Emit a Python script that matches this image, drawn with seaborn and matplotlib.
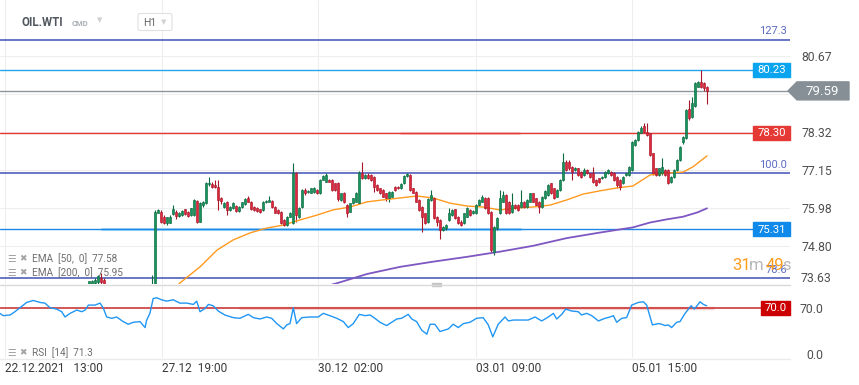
import numpy as np
import matplotlib
matplotlib.use("Agg")
import matplotlib.pyplot as plt
from matplotlib.patches import Rectangle, Polygon, FancyBboxPatch
import seaborn as sns

# ---------------- data ----------------
first_idx = 28  # index of first candle (H1 bars, 22.12.2021 13:00 = index 0)
opens = [73.50, 73.62, 73.65, 73.68, 73.80, 73.75, 73.55, 73.40, 73.30, 73.38,
         73.25, 73.15, 73.22, 73.10, 73.02, 73.08, 72.98, 73.05, 72.95, 72.88,
         72.95, 73.05, 73.30, 75.83, 75.86, 75.70, 75.50, 75.52, 75.78, 75.86,
         75.72, 75.76, 75.93, 75.86, 75.75, 75.75, 76.20, 75.55, 76.05, 76.11,
         76.70, 76.72, 76.68, 76.63, 76.27, 76.01, 76.17, 75.91, 75.96, 76.03,
         75.89, 76.01, 76.10, 76.27, 76.17, 76.01, 75.96, 75.93, 75.91, 76.15,
         76.17, 76.20, 76.01, 75.91, 75.86, 75.60, 75.45, 75.70,
         75.50, 77.06, 75.70, 76.00, 76.53, 76.45, 76.44, 76.45, 76.53, 76.42,
         76.84, 76.78, 76.84, 76.84, 76.73, 76.75, 76.22, 76.42, 76.06, 75.86,
         76.11, 76.17, 76.13, 77.06, 76.89, 76.99, 76.99, 76.94, 76.68, 76.58,
         76.53, 76.42, 76.27, 76.32, 76.63, 76.63, 76.58, 76.73, 76.96, 76.99,
         76.58, 76.47, 76.22, 76.01, 75.81, 75.55, 76.22, 76.27, 75.70, 75.60,
         75.29, 75.34,
         75.60, 75.75, 75.93, 75.70, 75.55, 75.50, 75.70, 75.91, 75.81, 75.81,
         76.06, 76.17, 76.27, 76.27, 75.86, 74.62, 75.34, 75.81, 76.17, 76.37,
         76.17, 75.86, 76.06, 76.06, 76.01, 76.17, 76.01, 76.17, 76.42, 76.27,
         76.17, 76.01, 76.27, 76.37, 76.73, 76.58, 76.32, 76.53, 76.84, 77.40,
         77.40, 77.25,
         77.15, 77.20, 77.09, 76.99, 77.15, 77.04, 77.04, 76.84, 76.89, 76.89,
         76.94, 77.04, 77.09, 77.06, 76.94, 76.84, 76.73, 76.99, 76.99, 77.15,
         77.92, 78.07, 78.30, 78.49, 78.33, 78.28, 77.66, 77.20, 76.99, 77.04,
         77.15, 77.15, 76.78, 76.94, 77.15, 77.45, 78.02, 78.13, 79.03, 78.79,
         79.11, 79.72, 79.88, 79.82, 79.72]
highs = [73.72, 73.75, 73.80, 73.90, 73.96, 73.80, 73.58, 73.45, 73.42, 73.40,
         73.30, 73.26, 73.25, 73.14, 73.12, 73.10, 73.08, 73.08, 72.98, 72.98,
         73.08, 73.90, 75.91, 75.95, 75.90, 75.74, 75.70, 75.74, 76.06, 75.90,
         75.85, 75.92, 75.95, 75.88, 75.98, 76.24, 76.22, 76.14, 76.20, 76.76,
         76.94, 76.76, 76.85, 76.82, 76.30, 76.16, 76.20, 76.04, 76.14, 76.06,
         76.04, 76.17, 76.27, 76.34, 76.20, 76.04, 75.99, 75.95, 76.19, 76.23,
         76.34, 76.23, 76.04, 75.93, 75.88, 75.62, 75.73, 75.84,
         77.35, 77.08, 76.00, 76.56, 76.60, 76.54, 76.60, 76.62, 76.55, 76.86,
         76.99, 77.04, 76.86, 76.86, 76.75, 76.78, 76.44, 76.47, 76.08, 76.13,
         76.29, 76.47, 77.10, 77.40, 77.01, 77.04, 77.02, 76.96, 76.70, 76.60,
         76.55, 76.44, 76.49, 76.50, 76.66, 76.65, 76.73, 76.98, 77.06, 77.03,
         76.60, 76.49, 76.24, 76.03, 75.83, 76.27, 76.53, 76.30, 75.72, 75.62,
         75.42, 75.47,
         75.96, 75.93, 75.95, 75.72, 75.60, 75.83, 76.01, 75.93, 75.90, 76.08,
         76.24, 76.37, 76.30, 76.30, 75.88, 75.42, 75.68, 76.53, 76.50, 76.40,
         76.20, 76.42, 76.08, 76.08, 76.53, 76.19, 76.24, 76.44, 76.44, 76.29,
         76.19, 76.34, 76.53, 76.71, 76.75, 76.60, 76.55, 76.86, 77.66, 77.45,
         77.45, 77.27,
         77.25, 77.22, 77.12, 77.20, 77.17, 77.06, 77.25, 76.86, 76.91, 76.96,
         77.12, 77.17, 77.12, 77.09, 76.96, 76.86, 76.96, 77.06, 77.27, 78.05,
         78.10, 78.36, 78.50, 78.59, 78.59, 78.30, 77.68, 77.22, 77.22, 77.51,
         77.17, 77.17, 76.96, 77.17, 77.47, 77.90, 78.20, 79.03, 79.31, 79.41,
         79.85, 79.90, 80.24, 79.85, 79.75]
lows = [73.45, 73.55, 73.60, 73.60, 73.60, 73.50, 73.35, 73.25, 73.26, 73.20,
        73.10, 73.12, 73.05, 72.98, 72.98, 72.92, 72.95, 72.90, 72.85, 72.85,
        72.92, 73.00, 73.25, 75.80, 75.50, 75.48, 75.45, 75.50, 75.75, 75.62,
        75.68, 75.72, 75.74, 75.70, 75.72, 75.72, 75.52, 75.53, 76.00, 76.08,
        76.65, 76.60, 76.60, 75.90, 76.10, 75.98, 75.75, 75.88, 75.93, 75.85,
        75.86, 75.98, 76.07, 76.14, 75.90, 75.88, 75.86, 75.82, 75.88, 76.12,
        76.14, 75.98, 75.80, 75.78, 75.46, 75.42, 75.42, 75.68,
        75.46, 75.55, 75.65, 75.98, 76.38, 76.42, 76.42, 76.42, 76.40, 76.40,
        76.82, 76.76, 76.76, 76.50, 76.50, 76.20, 76.20, 76.12, 75.70, 75.84,
        76.08, 76.14, 76.10, 76.86, 76.86, 76.86, 76.81, 76.47, 76.50, 76.40,
        76.30, 76.20, 76.14, 76.30, 76.50, 76.55, 76.55, 76.70, 76.94, 76.50,
        76.42, 76.14, 75.88, 75.24, 75.47, 75.52, 76.20, 75.62, 75.40, 75.00,
        75.26, 75.30,
        75.58, 75.73, 75.62, 75.47, 75.42, 75.47, 75.68, 75.72, 75.78, 75.78,
        76.03, 76.14, 75.93, 75.78, 74.62, 74.51, 75.29, 75.78, 76.14, 75.78,
        75.78, 75.83, 75.93, 75.88, 75.98, 75.98, 75.98, 76.14, 76.14, 76.03,
        75.81, 75.98, 76.24, 76.34, 76.40, 76.24, 76.30, 76.50, 76.80, 77.12,
        77.15, 76.84,
        77.12, 76.96, 76.91, 76.96, 77.01, 76.91, 76.75, 76.65, 76.75, 76.86,
        76.91, 77.01, 76.96, 76.81, 76.58, 76.53, 76.70, 76.96, 76.96, 77.12,
        77.90, 78.05, 78.28, 78.30, 78.20, 77.58, 77.00, 76.96, 76.96, 77.00,
        76.96, 76.70, 76.75, 76.91, 77.12, 77.42, 77.95, 78.10, 78.70, 78.76,
        79.08, 79.70, 79.68, 79.60, 79.19]
closes = [73.70, 73.72, 73.75, 73.87, 73.68, 73.60, 73.40, 73.30, 73.38, 73.25,
          73.15, 73.22, 73.10, 73.02, 73.08, 72.98, 73.05, 72.95, 72.88, 72.95,
          73.05, 73.30, 75.84, 75.90, 75.55, 75.52, 75.68, 75.70, 75.93, 75.72,
          75.82, 75.89, 75.78, 75.72, 75.96, 76.22, 75.54, 76.11, 76.16, 76.73,
          76.75, 76.63, 76.63, 76.22, 76.20, 76.13, 75.91, 76.01, 76.11, 75.89,
          76.01, 76.14, 76.24, 76.17, 75.93, 75.91, 75.89, 75.86, 76.17, 76.20,
          76.22, 76.01, 75.83, 75.80, 75.50, 75.45, 75.70, 75.81,
          77.06, 75.75, 75.96, 76.53, 76.42, 76.51, 76.58, 76.58, 76.42, 76.84,
          76.96, 76.99, 76.78, 76.53, 76.53, 76.24, 76.42, 76.17, 75.81, 76.11,
          76.27, 76.42, 77.06, 76.89, 76.99, 76.89, 76.84, 76.63, 76.53, 76.42,
          76.32, 76.27, 76.47, 76.47, 76.53, 76.58, 76.71, 76.96, 77.01, 76.53,
          76.44, 76.17, 75.91, 75.70, 75.50, 76.24, 76.37, 75.65, 75.55, 75.29,
          75.39, 75.44,
          75.81, 75.91, 75.65, 75.50, 75.44, 75.81, 75.96, 75.75, 75.88, 76.06,
          76.22, 76.32, 75.96, 75.81, 74.67, 75.39, 75.65, 76.27, 76.37, 75.81,
          75.81, 76.06, 75.96, 75.91, 76.17, 76.01, 76.22, 76.42, 76.17, 76.06,
          76.01, 76.32, 76.48, 76.68, 76.42, 76.27, 76.53, 76.84, 77.40, 77.15,
          77.20, 77.09,
          77.20, 76.99, 76.94, 77.15, 77.04, 76.94, 76.78, 76.68, 76.78, 76.94,
          77.09, 77.15, 76.99, 76.84, 76.68, 76.63, 76.94, 77.04, 77.25, 78.02,
          78.07, 78.33, 78.43, 78.33, 78.23, 77.61, 77.04, 76.99, 77.20, 77.25,
          76.99, 76.73, 76.94, 77.15, 77.45, 77.87, 78.17, 79.00, 78.74, 79.21,
          79.82, 79.88, 79.72, 79.67, 79.59]

ema50_idx = [56, 58.3, 65, 70.7, 76, 81.7, 87.3, 92.7, 98.3, 104, 109.3, 115, 120.7,
             126, 131.7, 137.3, 142.7, 148.3, 154, 159.3, 165, 170.7, 176, 181.7,
             187.3, 192.7, 198.3, 204, 209.3, 215, 220.7, 226, 229.3, 234]
ema50_val = [73.45, 73.65, 74.15, 74.67, 74.98, 75.20, 75.35, 75.44, 75.60, 75.75,
             75.91, 76.00, 76.16, 76.22, 76.28, 76.34, 76.28, 76.12, 76.03, 76.00,
             75.91, 75.97, 76.00, 76.06, 76.22, 76.40, 76.50, 76.59, 76.65, 76.99,
             77.05, 77.08, 77.24, 77.58]
ema200_idx = [105, 110.5, 120.7, 131.7, 142.7, 154, 165, 176, 187.3, 198.3, 209.3,
              215, 220.7, 226, 230.7, 234]
ema200_val = [73.50, 73.64, 73.93, 74.15, 74.31, 74.46, 74.62, 74.80, 75.04, 75.21,
              75.37, 75.52, 75.62, 75.70, 75.83, 75.96]

rsi_idx = [-1.7, -0.6, 1.7, 3.3, 5.0, 7.2, 9.4, 11.7, 13.3, 15.0, 17.2, 18.9, 20.0,
           21.7, 23.9, 25.6, 26.7, 27.8, 30.0, 31.7, 32.8, 33.9, 35.6, 37.2, 39.4,
           41.1, 42.8, 45.0, 46.7, 47.2, 48.3, 49.4, 50.6, 52.2, 53.9, 56.1, 58.3,
           60.6, 62.8, 63.9, 65.0, 66.7, 67.8, 69.4, 71.1, 73.3, 76.1, 78.3, 81.1,
           82.8, 85.0, 87.2, 88.9, 90.6, 92.8, 93.9, 95.0, 96.1, 97.2, 98.9, 101.7,
           104.4, 106.1, 108.3, 110.6, 112.8, 114.4, 116.1, 118.1, 120.0, 121.7,
           123.3, 125.0, 127.2, 128.9, 130.6, 132.2, 134.4, 135.6, 137.2, 138.9,
           140.6, 141.7, 143.3, 145.0, 147.8, 149.4, 151.1, 152.8, 155.0, 157.2,
           159.4, 161.1, 162.6, 164.4, 166.7, 167.8, 169.4, 172.2, 174.4, 176.7,
           178.9, 181.1, 182.8, 183.9, 185.6, 186.9, 188.9, 191.1, 192.2, 193.9,
           195.6, 197.8, 200.0, 201.7, 202.8, 203.9, 205.6, 207.2, 208.9, 211.1,
           212.8, 213.9, 215.8, 217.8, 218.9, 220.0, 221.1, 222.2, 223.9, 225.0,
           226.7, 228.7, 229.8, 231.7, 232.8, 233.9]
rsi_val = [61.5, 58, 59, 64, 70, 78, 81, 78, 77, 70, 68, 64, 56,
           61.5, 66.5, 64, 66.5, 74, 74, 77, 69, 56, 54, 56, 49,
           45, 48, 49, 40, 51, 61.5, 84, 85, 82, 80, 82, 77,
           77, 75, 80, 64, 69, 75, 73, 65, 59, 55, 54, 60,
           55, 53, 56, 54, 46, 38, 44, 46, 70, 46, 55, 56,
           56, 61.5, 58, 54, 49, 40, 46, 60, 58, 59,
           54, 48, 43, 48, 53, 54, 60, 53, 49, 36,
           30, 45, 45, 34, 38, 45, 40, 46, 48, 54,
           55, 44, 26, 45, 56, 50, 51.4, 51.4, 51.4, 56,
           50, 56, 61.5, 53, 60, 68, 65, 64, 59, 61.5,
           58, 50, 54, 56, 58, 48, 54, 55, 74, 78,
           79, 74, 44, 46, 45, 43, 44, 40, 48, 49,
           61.5, 73, 68, 79, 75, 73]

date_tick_idx = [0, 52.3, 104.3, 157, 209]
date_tick_labels = ["22.12.2021   13:00", "27.12  19:00", "30.12  02:00",
                    "03.01  09:00", "05.01  15:00"]
price_ticks = [80.67, 79.495, 78.32, 77.15, 75.98, 74.80, 73.63]
price_tick_labels = ["80.67", "", "78.32", "77.15", "75.98", "74.80", ""]

fib_levels = [81.17, 77.04, 73.80]
fib_labels = ["127.3", "100.0", "78.6"]
box_levels = [80.23, 78.30, 75.31]
box_labels = ["80.23", "78.30", "75.31"]
last_price = 79.59
ema50_last, ema200_last, rsi_last = 77.58, 75.95, 71.3
rsi_level = 70.0
countdown = ["31", "m", "49", "s"]

# ---------------- style ----------------
sns.set_theme(style="white")
plt.rcParams['font.family'] = ['Roboto', 'DejaVu Sans']

W, H = 859, 385
fig = plt.figure(figsize=(W / 100, H / 100), dpi=100)
fig.patch.set_facecolor('white')


def frac(x0, y0, x1, y1):
    return [x0 / W, 1 - y1 / H, (x1 - x0) / W, (y1 - y0) / H]


ax = fig.add_axes(frac(0, 0, 790, 284))
axr = fig.add_axes(frac(0, 285, 790, 358), sharex=ax)
ov = fig.add_axes([0, 0, 1, 1])
ov.set_xlim(0, W)
ov.set_ylim(H, 0)
ov.axis('off')
ov.set_zorder(10)

Y0, Y1 = 73.62, 82.40
XL = (-1.667, 261.67)


def ypx(p):
    return 284 * (Y1 - p) / (Y1 - Y0)


GREEN_F, GREEN_E = '#16945c', '#0b6a40'
RED_F, RED_E = '#e0283c', '#a8162a'

# ---------------- main panel ----------------
for s in ax.spines.values():
    s.set_visible(False)
ax.set_facecolor('white')
ax.set_xlim(*XL)
ax.set_ylim(Y0, Y1)
ax.set_xticks(date_tick_idx)
ax.tick_params(axis='x', labelbottom=False, length=0)
ax.yaxis.tick_right()
ax.set_yticks(price_ticks)
ax.set_yticklabels(price_tick_labels)
ax.tick_params(axis='y', length=0, pad=8, labelsize=8.8, labelcolor='#4f4f4f')
ax.grid(True, color='#eeeeee', lw=0.8, zorder=0)
ax.set_axisbelow(True)

# reference lines
for lvl in fib_levels:
    ax.axhline(lvl, color='#3f51b5', lw=1.1, zorder=2)
ax.axhline(box_levels[0], color='#27a4ec', lw=1.0, zorder=2)
ax.axhline(last_price, color='#8d969b', lw=1.0, zorder=2)
ax.plot([131.7, 171.7], [box_levels[1]] * 2, color='#f6c4c4', lw=2.0, zorder=1.8,
        solid_capstyle='butt')
ax.axhline(box_levels[1], color='#e53935', lw=1.0, zorder=2)
ax.plot([32, 172], [box_levels[2]] * 2, color='#a9d8fa', lw=2.2, zorder=1.8,
        solid_capstyle='butt')
ax.axhline(box_levels[2], color='#1e88e5', lw=1.0, zorder=2)

# candles
idx = np.arange(first_idx, first_idx + len(closes))
O = np.array(opens); Hh = np.array(highs); L = np.array(lows); C = np.array(closes)
up = C >= O
fill = np.where(up, GREEN_F, RED_F)
edge = np.where(up, GREEN_E, RED_E)
ax.vlines(idx, L, Hh, colors=edge, lw=0.8, zorder=3)
ax.bar(idx, np.maximum(np.abs(C - O), 0.025), bottom=np.minimum(O, C), width=0.72,
       color=fill, edgecolor=edge, linewidth=0.45, zorder=4)

# EMAs
sns.lineplot(x=ema50_idx, y=ema50_val, ax=ax, color='#ff9a1f', lw=1.0, zorder=3.5, legend=False)
sns.lineplot(x=ema200_idx, y=ema200_val, ax=ax, color='#7e57c2', lw=1.3, zorder=3.5, legend=False)
ax.set_ylim(Y0, Y1)
ax.set_xlim(*XL)

# ---------------- RSI panel ----------------
for s in axr.spines.values():
    s.set_visible(False)
axr.set_facecolor('white')
axr.set_ylim(-6.05, 104.4)
axr.yaxis.tick_right()
axr.set_yticks([70, 0])
axr.set_yticklabels(["70.0", "0.0"])
for lab in axr.get_yticklabels():
    lab.set_ha('right')
axr.tick_params(axis='y', length=0, pad=24, labelsize=8.8, labelcolor='#4f4f4f')
axr.set_xticks(date_tick_idx)
axr.set_xticklabels(date_tick_labels, ha='left')
axr.tick_params(axis='x', length=0, pad=3, labelsize=8.6, labelcolor='#3a3a3a')
axr.grid(True, axis='x', color='#eeeeee', lw=0.8)
axr.grid(False, axis='y')
axr.set_axisbelow(True)
axr.plot([78, 236.5], [rsi_level] * 2, color='#f3b8b8', lw=2.4, alpha=0.6, zorder=1.5,
         solid_capstyle='butt')
axr.axhline(rsi_level, color='#c62828', lw=1.1, zorder=2)
sns.lineplot(x=rsi_idx, y=rsi_val, ax=axr, color='#2196f3', lw=1.0, zorder=3, legend=False)
axr.set_ylim(-6.05, 104.4)
axr.set_xlim(*XL)
axr.set_xlabel('')
axr.set_ylabel('')
ax.set_xlabel('')
ax.set_ylabel('')

# ---------------- overlay (pixel coordinates) ----------------
ov.plot([0, 790], [284.5, 284.5], color='#d9d9d9', lw=1.0)
ov.plot([0, 790], [358.5, 358.5], color='#ebebeb', lw=1.0)
ov.add_patch(Rectangle((432, 282.5), 9, 3, color='#c4c4c4'))

# header
ov.text(22, 23, "OIL.WTI", fontsize=8.3, fontweight='bold', color='#4f565e', ha='left', va='center')
ov.text(72, 23.5, "CMD", fontsize=5.5, fontweight='bold', color='#a9adb1', ha='left', va='center')
ov.text(97, 20.5, "\u25BC", fontsize=5, color='#cfcfcf', ha='left', va='center',
        family=['DejaVu Sans'])
ov.add_patch(FancyBboxPatch((138, 13.5), 34, 17, boxstyle='round,pad=0,rounding_size=2',
                            fc='white', ec='#e0e0e0', lw=0.8))
ov.text(143, 22.5, "H1", fontsize=7.5, color='#666666', ha='left', va='center')
ov.text(161, 22, "\u25BC", fontsize=5, color='#d0d0d0', ha='left', va='center',
        family=['DejaVu Sans'])

# indicator legends
leg_rows = [(258.5, "EMA  [50,  0]  %.2f" % ema50_last),
            (272.5, "EMA  [200,  0]  %.2f" % ema200_last),
            (352.5, "RSI  [14]  %.1f" % rsi_last)]
for yy, txt in leg_rows:
    ov.text(7, yy, "\u2630", fontsize=7, color='#a3a3a3', ha='left', va='center',
            family=['DejaVu Sans'])
    ov.text(19.5, yy, "\u2716", fontsize=6.5, color='#a3a3a3', ha='left', va='center',
            family=['DejaVu Sans'])
    ov.text(32, yy, txt, fontsize=7.2, color='#6e6e6e', ha='left', va='center')

# fib labels
for lvl, lab in zip(fib_levels, fib_labels):
    ov.text(787, ypx(lvl) - 8.5, lab, fontsize=8, color='#5c6bc0', ha='right', va='center')

# boxed level labels
box_cols = ['#0aa5ee', '#e53935', '#0f8aea']
for lvl, lab, col in zip(box_levels, box_labels, box_cols):
    yc = ypx(lvl)
    ov.add_patch(Rectangle((753, yc - 7), 37, 14, color=col, zorder=5))
    ov.text(771.5, yc + 0.3, lab, fontsize=8.2, color='white', ha='center', va='center', zorder=6)

# last price arrow
yc = ypx(last_price)
ov.add_patch(Polygon([(788, yc), (797, yc - 9), (849, yc - 9), (849, yc + 9), (797, yc + 9)],
                     closed=True, color='#868f95', zorder=5))
ov.text(822, yc + 0.3, "%.2f" % last_price, fontsize=9.5, color='white', ha='center',
        va='center', zorder=6)

# bottom price label (clamped at panel edge)
ov.text(801, 278, "73.63", fontsize=8.8, color='#4f4f4f', ha='left', va='center')

# RSI 70 box
ov.add_patch(Rectangle((761, 300.5), 29, 14.5, color='#cc0000', zorder=5))
ov.text(775.5, 307.9, "70.0", fontsize=8.2, color='white', ha='center', va='center', zorder=6)

# countdown
cd_x = [732, 749, 766, 782]
cd_c = ['#ff9c1a', '#b8b8b8', '#ff9c1a', '#b8b8b8']
for xx, tt, cc in zip(cd_x, countdown, cd_c):
    ov.text(xx, 270, tt, fontsize=12, color=cc, ha='left', va='baseline', zorder=7)

fig.savefig("out.png", dpi=100, facecolor='white')
